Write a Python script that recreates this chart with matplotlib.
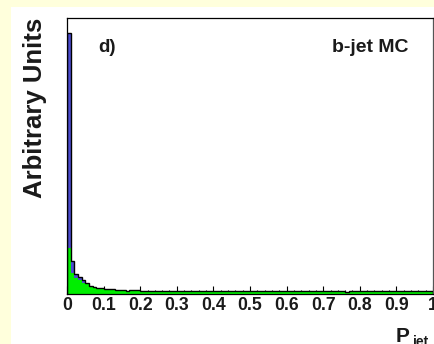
import numpy as np
import matplotlib.pyplot as plt
from matplotlib.patches import Rectangle
from matplotlib.ticker import MultipleLocator

# P_jet distribution, 100 bins of width 0.01 (arbitrary units, peak = 1)
bin_edges = np.linspace(0.0, 1.0, 101)

all_jets = [
    1.000, 0.126, 0.077, 0.065, 0.054, 0.042, 0.031, 0.027, 0.024, 0.022,
    0.019, 0.018, 0.018, 0.017, 0.017, 0.017, 0.011, 0.017, 0.017, 0.016,
    0.012, 0.012, 0.011, 0.012, 0.011, 0.011, 0.012, 0.011, 0.011, 0.011,
    0.011, 0.011, 0.011, 0.011, 0.011, 0.011, 0.011, 0.011, 0.011, 0.011,
    0.011, 0.011, 0.011, 0.011, 0.011, 0.011, 0.011, 0.011, 0.011, 0.011,
    0.011, 0.011, 0.011, 0.011, 0.011, 0.011, 0.011, 0.011, 0.011, 0.011,
    0.011, 0.011, 0.011, 0.011, 0.011, 0.011, 0.011, 0.011, 0.011, 0.011,
    0.011, 0.011, 0.011, 0.011, 0.011, 0.011, 0.006, 0.011, 0.011, 0.011,
    0.011, 0.011, 0.011, 0.011, 0.011, 0.011, 0.011, 0.011, 0.011, 0.011,
    0.011, 0.011, 0.011, 0.011, 0.011, 0.011, 0.011, 0.011, 0.011, 0.011,
]
subset = [
    0.176, 0.080, 0.061, 0.054, 0.042, 0.038, 0.027, 0.023, 0.021, 0.019,
    0.018, 0.017, 0.017, 0.016, 0.016, 0.016, 0.010, 0.016, 0.016, 0.015,
    0.011, 0.011, 0.010, 0.011, 0.010, 0.010, 0.011, 0.010, 0.010, 0.010,
    0.010, 0.010, 0.010, 0.010, 0.010, 0.010, 0.010, 0.010, 0.010, 0.010,
    0.010, 0.010, 0.010, 0.010, 0.010, 0.010, 0.010, 0.010, 0.010, 0.010,
    0.010, 0.010, 0.010, 0.010, 0.010, 0.010, 0.010, 0.010, 0.010, 0.010,
    0.010, 0.010, 0.010, 0.010, 0.010, 0.010, 0.010, 0.010, 0.010, 0.010,
    0.010, 0.010, 0.010, 0.010, 0.010, 0.010, 0.005, 0.010, 0.010, 0.010,
    0.010, 0.010, 0.010, 0.010, 0.010, 0.010, 0.010, 0.010, 0.010, 0.010,
    0.010, 0.010, 0.010, 0.010, 0.010, 0.010, 0.010, 0.010, 0.010, 0.010,
]

tick_values = [0.0, 0.1, 0.2, 0.3, 0.4, 0.5, 0.6, 0.7, 0.8, 0.9, 1.0]
tick_labels = ["0", "0.1", "0.2", "0.3", "0.4", "0.5", "0.6", "0.7", "0.8", "0.9", "1"]

plt.rcParams["font.family"] = ["Liberation Sans", "DejaVu Sans"]
plt.rcParams["font.weight"] = "bold"

W, H = 434, 344
fig = plt.figure(figsize=(W / 100, H / 100), dpi=100)
fig.patch.set_facecolor("#ffffdc")
# white canvas inset from the pale yellow page
fig.patches.append(Rectangle((11 / W, 0), 1 - 11 / W, 1 - 7 / H,
                             transform=fig.transFigure, facecolor="white",
                             edgecolor="none", zorder=-10))

ax = fig.add_axes([67 / W, 50 / H, 366 / W, 276 / H])
ax.set_facecolor("white")

ax.stairs(all_jets, bin_edges, fill=True, color="#4c4cd0", zorder=1)
ax.stairs(subset, bin_edges, fill=True, color="#00ee00", zorder=2)
ax.stairs(all_jets, bin_edges, color="black", linewidth=1.0, zorder=3)

ax.set_xlim(0, 1)
ax.set_ylim(0, 1.0575)

ax.set_xticks(tick_values, tick_labels)
ax.xaxis.set_minor_locator(MultipleLocator(0.02))
ax.tick_params(axis="x", which="major", direction="in", length=5.8, width=0.8,
               pad=2.5, labelsize=12.7, colors="black")
ax.tick_params(axis="x", which="minor", direction="in", length=2.9, width=0.8)
ax.tick_params(axis="y", which="both", left=False, labelleft=False)
for lbl in ax.get_xticklabels():
    lbl.set_fontweight("bold")
    lbl.set_color("#1a1a1a")

for side in ["left", "right", "top", "bottom"]:
    ax.spines[side].set_linewidth(0.9)
    ax.spines[side].set_color("black")
ax.spines["right"].set_color("#555555")

ax.text(98 / W, 1 - 52 / H, "d)", transform=fig.transFigure, fontsize=13.5,
        fontweight="bold", color="#1a1a1a", va="baseline", ha="left")
ax.text(409 / W, 1 - 52 / H, "b-jet MC", transform=fig.transFigure, fontsize=14,
        fontweight="bold", color="#1a1a1a", va="baseline", ha="right")

fig.text(35 / W, 1 - 18 / H, "Arbitrary Units", rotation=90, fontsize=18.5,
         fontweight="bold", color="#1a1a1a", ha="center", va="top")

fig.text(396 / W, 1 - 342 / H, "P", fontsize=15, fontweight="bold",
         color="#1a1a1a", ha="left", va="baseline")
fig.text(412 / W, 1 - 346 / H, "jet", fontsize=10, fontweight="bold",
         color="#1a1a1a", ha="left", va="baseline")

fig.savefig("out.png", dpi=100, facecolor=fig.get_facecolor())
